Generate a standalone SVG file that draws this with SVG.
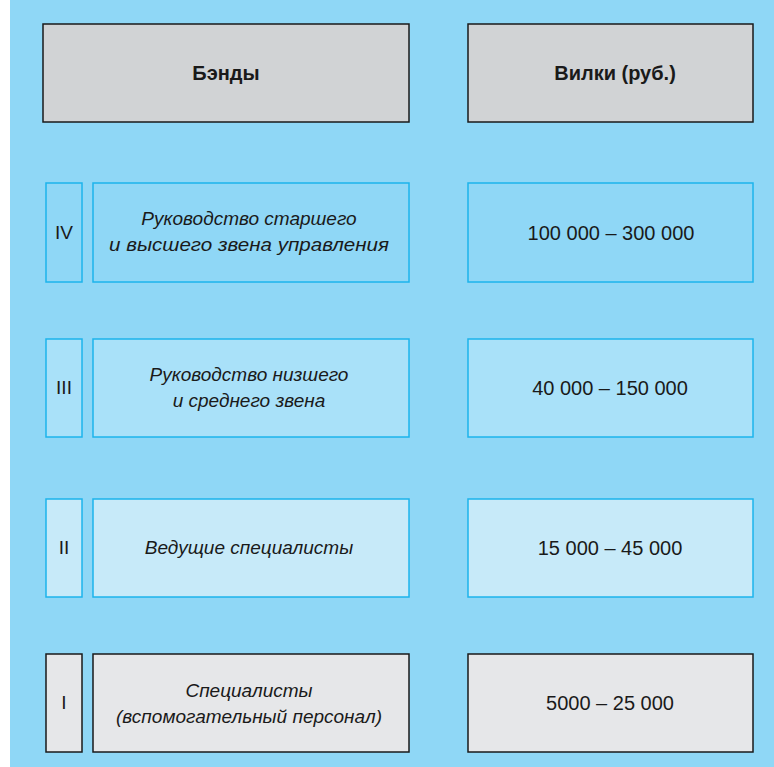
<svg xmlns="http://www.w3.org/2000/svg" width="774" height="767" viewBox="0 0 774 767">
<style>
.bg{fill:#8fd7f6}
.hdr{fill:#d1d3d5;stroke:#1a1a1a;stroke-width:1.5}
.b4{fill:#8fd7f6;stroke:#1cb4ec;stroke-width:1.5}
.b3{fill:#a9e1f9;stroke:#1cb4ec;stroke-width:1.5}
.b2{fill:#c7eaf9;stroke:#1cb4ec;stroke-width:1.5}
.b1{fill:#e6e7e9;stroke:#1a1a1a;stroke-width:1.5}
text{font-family:"Liberation Sans",Arial,sans-serif;fill:#1a1a1a;text-anchor:middle;font-size:19px}
.h{font-weight:bold;font-size:20px}
.i{font-style:italic}
.n{font-size:20px}
</style>
<rect x="0" y="0" width="774" height="767" fill="#ffffff"/>
<rect class="bg" x="10" y="0" width="764" height="767"/>
<g id="header-bands"><rect class="hdr" x="43" y="24" width="366" height="98"/><text class="h" x="226" y="80">Бэнды</text></g>
<g id="header-forks"><rect class="hdr" x="468" y="24" width="285" height="98"/><text class="h" x="615" y="80">Вилки (руб.)</text></g>

<g id="band-4">
<rect class="b4" x="46" y="183" width="36" height="99"/><text x="64" y="239">IV</text>
<rect class="b4" x="93" y="183" width="316" height="99"/>
<text class="i" x="249" y="225">Руководство старшего</text>
<text class="i" x="249" y="251" textLength="280" lengthAdjust="spacingAndGlyphs">и высшего звена управления</text>
</g>
<g id="fork-4"><rect class="b4" x="468" y="183" width="285" height="99"/><text class="n" x="611" y="240">100 000 – 300 000</text></g>

<g id="band-3">
<rect class="b3" x="46" y="339" width="36" height="98"/><text x="64" y="394">III</text>
<rect class="b3" x="93" y="339" width="316" height="98"/>
<text class="i" x="249" y="381">Руководство низшего</text>
<text class="i" x="249" y="407">и среднего звена</text>
</g>
<g id="fork-3"><rect class="b3" x="468" y="339" width="285" height="98"/><text class="n" x="610" y="395">40 000 – 150 000</text></g>

<g id="band-2">
<rect class="b2" x="46" y="499" width="36" height="98"/><text x="64" y="554">II</text>
<rect class="b2" x="93" y="499" width="316" height="98"/>
<text class="i" x="249" y="554">Ведущие специалисты</text>
</g>
<g id="fork-2"><rect class="b2" x="468" y="499" width="285" height="98"/><text class="n" x="610" y="555">15 000 – 45 000</text></g>

<g id="band-1">
<rect class="b1" x="46" y="654" width="36" height="98"/><text x="64" y="709">I</text>
<rect class="b1" x="93" y="654" width="316" height="98"/>
<text class="i" x="249" y="697">Специалисты</text>
<text class="i" x="249" y="723">(вспомогательный персонал)</text>
</g>
<g id="fork-1"><rect class="b1" x="468" y="654" width="285" height="98"/><text class="n" x="610" y="710">5000 – 25 000</text></g>
<g id="connectors"/>
</svg>
